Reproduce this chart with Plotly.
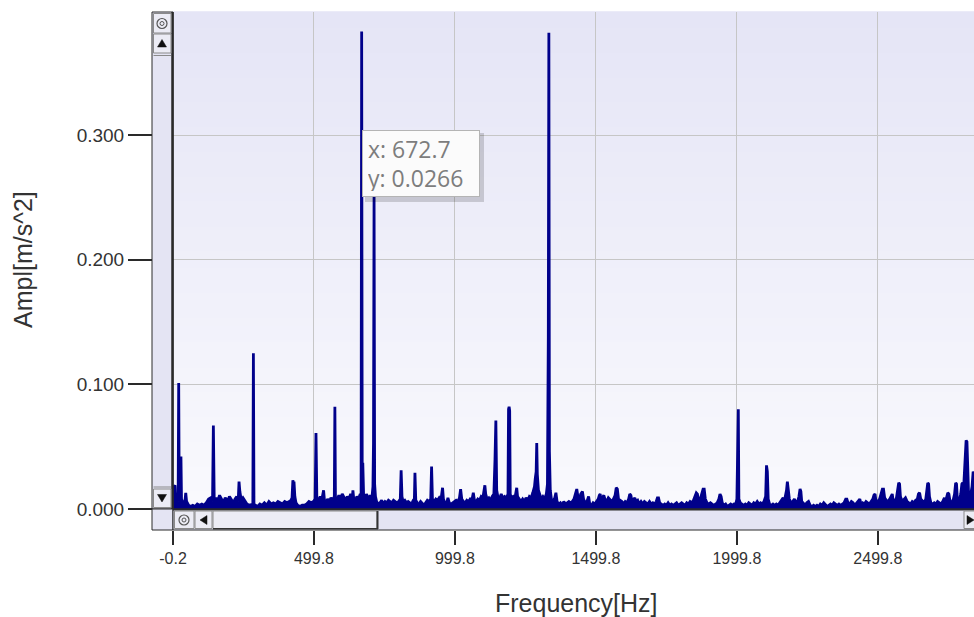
import plotly.graph_objects as go

# ---------------- data ----------------
spectrum_0_500 = [
    (0, 0.012), (3, 0.018), (7, 0.019), (9, 0.008), (12, 0.010), (18, 0.006), (20, 0.101),
    (22, 0.006), (26, 0.010), (28, 0.042), (30, 0.008), (35, 0.005), (42, 0.006), (45, 0.013),
    (48, 0.006), (55, 0.003), (62, 0.002), (70, 0.003), (78, 0.002), (86, 0.004), (94, 0.003),
    (102, 0.004), (110, 0.003), (118, 0.005), (126, 0.008), (134, 0.009), (140, 0.006),
    (143, 0.067), (146, 0.007), (152, 0.009), (158, 0.006), (165, 0.011), (172, 0.008),
    (178, 0.005), (185, 0.009), (192, 0.006), (200, 0.010), (207, 0.007), (214, 0.005),
    (220, 0.008), (226, 0.010), (231, 0.006), (234, 0.022), (237, 0.014), (242, 0.007),
    (248, 0.009), (255, 0.006), (262, 0.004), (270, 0.003), (278, 0.004), (283, 0.004),
    (285, 0.125), (287, 0.004), (292, 0.003), (300, 0.002), (308, 0.004), (316, 0.003),
    (324, 0.005), (332, 0.003), (340, 0.006), (348, 0.004), (356, 0.005), (364, 0.004),
    (372, 0.006), (380, 0.005), (388, 0.004), (396, 0.006), (404, 0.005), (412, 0.006),
    (418, 0.007), (422, 0.009), (425, 0.023), (427, 0.020), (429, 0.022), (432, 0.010),
    (436, 0.005), (442, 0.003), (450, 0.002), (458, 0.003), (466, 0.003), (474, 0.004),
    (482, 0.006), (490, 0.005), (498, 0.006), (504, 0.008),
]
spectrum_500_1000 = [
    (507, 0.061), (510, 0.009), (516, 0.007), (522, 0.010), (528, 0.008), (534, 0.015),
    (537, 0.007), (542, 0.005), (548, 0.008), (554, 0.006), (560, 0.009), (566, 0.007),
    (572, 0.010), (574, 0.082), (576, 0.009), (582, 0.007), (588, 0.011), (594, 0.008),
    (600, 0.012), (606, 0.009), (612, 0.007), (618, 0.010), (624, 0.008), (630, 0.012),
    (636, 0.009), (638, 0.015), (641, 0.008), (646, 0.006), (652, 0.010), (658, 0.008),
    (664, 0.012), (667, 0.010), (669, 0.383), (671, 0.012), (673, 0.037), (676, 0.010),
    (681, 0.008), (686, 0.012), (690, 0.010), (695, 0.008), (700, 0.011), (705, 0.008),
    (709, 0.018), (711, 0.053), (713, 0.252), (715, 0.020), (718, 0.010), (722, 0.006),
    (728, 0.004), (734, 0.005), (740, 0.007), (746, 0.004), (752, 0.006), (758, 0.005),
    (764, 0.007), (770, 0.006), (776, 0.005), (782, 0.007), (788, 0.006), (794, 0.005),
    (800, 0.006), (806, 0.008), (809, 0.031), (812, 0.010), (816, 0.006), (822, 0.007),
    (828, 0.005), (834, 0.006), (840, 0.005), (846, 0.004), (852, 0.007), (856, 0.008),
    (858, 0.029), (861, 0.007), (866, 0.005), (872, 0.004), (878, 0.006), (884, 0.004),
    (890, 0.003), (896, 0.005), (902, 0.007), (908, 0.006), (914, 0.008), (917, 0.034),
    (920, 0.008), (926, 0.006), (932, 0.008), (938, 0.007), (944, 0.009), (950, 0.007),
    (956, 0.017), (959, 0.008), (964, 0.005), (970, 0.004), (975, 0.009), (980, 0.005),
    (986, 0.004), (992, 0.005), (998, 0.006),
]
spectrum_1000_1500 = [
    (1004, 0.007), (1010, 0.006), (1016, 0.009), (1020, 0.016), (1024, 0.008), (1030, 0.006),
    (1036, 0.005), (1042, 0.007), (1048, 0.006), (1054, 0.008), (1060, 0.007), (1065, 0.013),
    (1069, 0.007), (1075, 0.006), (1081, 0.008), (1087, 0.007), (1093, 0.010), (1099, 0.009),
    (1103, 0.017), (1106, 0.019), (1109, 0.012), (1114, 0.008), (1120, 0.009), (1126, 0.007),
    (1132, 0.010), (1138, 0.012), (1142, 0.040), (1145, 0.071), (1148, 0.015), (1152, 0.010),
    (1158, 0.008), (1164, 0.012), (1170, 0.009), (1176, 0.010), (1182, 0.008), (1188, 0.012),
    (1190, 0.080), (1192, 0.082), (1194, 0.079), (1196, 0.012), (1200, 0.009), (1206, 0.010),
    (1212, 0.008), (1216, 0.014), (1219, 0.017), (1222, 0.010), (1228, 0.008), (1234, 0.006),
    (1240, 0.008), (1246, 0.006), (1252, 0.009), (1258, 0.007), (1264, 0.010), (1270, 0.009),
    (1276, 0.013), (1282, 0.018), (1285, 0.025), (1288, 0.030), (1290, 0.053), (1292, 0.028),
    (1296, 0.015), (1300, 0.012), (1306, 0.008), (1312, 0.010), (1318, 0.008), (1324, 0.012),
    (1328, 0.020), (1331, 0.138), (1333, 0.382), (1335, 0.046), (1338, 0.015), (1342, 0.008),
    (1348, 0.006), (1354, 0.009), (1358, 0.013), (1362, 0.006), (1368, 0.004), (1374, 0.005),
    (1380, 0.003), (1386, 0.006), (1392, 0.004), (1398, 0.005), (1404, 0.006), (1410, 0.005),
    (1416, 0.006), (1422, 0.008), (1428, 0.014), (1432, 0.016), (1436, 0.010), (1440, 0.006),
    (1446, 0.012), (1452, 0.014), (1456, 0.008), (1462, 0.005), (1468, 0.006), (1474, 0.010),
    (1478, 0.004), (1484, 0.003), (1490, 0.005), (1496, 0.004),
]
spectrum_1500_2000 = [
    (1502, 0.006), (1508, 0.008), (1512, 0.011), (1515, 0.012), (1518, 0.007), (1524, 0.009),
    (1528, 0.011), (1532, 0.008), (1538, 0.006), (1544, 0.009), (1550, 0.007), (1556, 0.006),
    (1562, 0.008), (1568, 0.011), (1572, 0.017), (1576, 0.016), (1580, 0.008), (1586, 0.007),
    (1592, 0.006), (1598, 0.004), (1604, 0.006), (1610, 0.005), (1616, 0.008), (1620, 0.012),
    (1624, 0.011), (1628, 0.006), (1634, 0.008), (1638, 0.009), (1642, 0.006), (1648, 0.007),
    (1654, 0.004), (1660, 0.006), (1666, 0.004), (1672, 0.006), (1678, 0.005), (1684, 0.004),
    (1690, 0.006), (1696, 0.004), (1702, 0.005), (1708, 0.004), (1714, 0.006), (1718, 0.009),
    (1722, 0.009), (1726, 0.005), (1732, 0.004), (1738, 0.003), (1744, 0.004), (1750, 0.003),
    (1756, 0.005), (1762, 0.003), (1768, 0.004), (1774, 0.003), (1780, 0.004), (1786, 0.005),
    (1792, 0.003), (1798, 0.004), (1804, 0.005), (1810, 0.004), (1816, 0.003), (1822, 0.005),
    (1828, 0.004), (1834, 0.006), (1840, 0.005), (1846, 0.007), (1852, 0.010), (1856, 0.013),
    (1860, 0.012), (1864, 0.006), (1870, 0.008), (1876, 0.012), (1880, 0.016), (1884, 0.016),
    (1888, 0.008), (1894, 0.005), (1900, 0.004), (1906, 0.005), (1912, 0.004), (1918, 0.003),
    (1924, 0.004), (1930, 0.005), (1936, 0.008), (1940, 0.012), (1944, 0.010), (1948, 0.005),
    (1954, 0.003), (1960, 0.004), (1966, 0.002), (1972, 0.003), (1978, 0.004), (1984, 0.003),
    (1990, 0.004), (1996, 0.004),
]
spectrum_2000_2850 = [
    (2000, 0.008), (2003, 0.050), (2005, 0.080), (2007, 0.008), (2012, 0.005), (2018, 0.004),
    (2024, 0.003), (2030, 0.004), (2036, 0.003), (2042, 0.005), (2048, 0.004), (2054, 0.003),
    (2060, 0.005), (2066, 0.004), (2072, 0.006), (2078, 0.004), (2084, 0.005), (2090, 0.004),
    (2096, 0.006), (2102, 0.010), (2105, 0.035), (2108, 0.030), (2111, 0.008), (2116, 0.004),
    (2122, 0.003), (2128, 0.004), (2134, 0.003), (2140, 0.004), (2146, 0.003), (2152, 0.005),
    (2158, 0.007), (2164, 0.009), (2168, 0.006), (2172, 0.010), (2176, 0.015), (2179, 0.022),
    (2182, 0.014), (2186, 0.008), (2192, 0.005), (2198, 0.006), (2204, 0.008), (2208, 0.006),
    (2214, 0.005), (2220, 0.010), (2224, 0.016), (2227, 0.014), (2230, 0.006), (2236, 0.004),
    (2242, 0.003), (2248, 0.005), (2254, 0.006), (2260, 0.003), (2266, 0.002), (2272, 0.003),
    (2278, 0.002), (2284, 0.003), (2290, 0.002), (2296, 0.004), (2302, 0.003), (2308, 0.005),
    (2314, 0.003), (2320, 0.002), (2326, 0.003), (2332, 0.004), (2338, 0.003), (2344, 0.005),
    (2350, 0.004), (2356, 0.003), (2362, 0.004), (2368, 0.003), (2374, 0.004), (2380, 0.005),
    (2386, 0.008), (2390, 0.008), (2394, 0.005), (2400, 0.004), (2406, 0.006), (2412, 0.005),
    (2418, 0.003), (2424, 0.005), (2430, 0.007), (2436, 0.008), (2440, 0.004), (2446, 0.005),
    (2452, 0.004), (2458, 0.006), (2464, 0.005), (2470, 0.004), (2476, 0.006), (2482, 0.008),
    (2486, 0.011), (2490, 0.012), (2494, 0.005), (2500, 0.006), (2506, 0.008), (2510, 0.012),
    (2516, 0.016), (2520, 0.016), (2524, 0.009), (2530, 0.007), (2536, 0.006), (2542, 0.008),
    (2548, 0.011), (2551, 0.012), (2554, 0.007), (2560, 0.006), (2566, 0.009), (2570, 0.014),
    (2574, 0.021), (2577, 0.020), (2580, 0.010), (2586, 0.006), (2592, 0.008), (2598, 0.009),
    (2604, 0.006), (2610, 0.005), (2616, 0.004), (2622, 0.006), (2628, 0.005), (2634, 0.007),
    (2640, 0.008), (2644, 0.012), (2648, 0.013), (2652, 0.008), (2658, 0.006), (2664, 0.005),
    (2670, 0.008), (2674, 0.014), (2677, 0.021), (2680, 0.020), (2683, 0.010), (2688, 0.005),
    (2694, 0.004), (2700, 0.005), (2706, 0.004), (2712, 0.006), (2718, 0.005), (2724, 0.004),
    (2730, 0.006), (2736, 0.009), (2740, 0.006), (2744, 0.010), (2748, 0.013), (2752, 0.012),
    (2756, 0.006), (2762, 0.005), (2768, 0.008), (2772, 0.012), (2776, 0.021), (2779, 0.020),
    (2782, 0.008), (2788, 0.006), (2794, 0.012), (2798, 0.020), (2801, 0.021), (2804, 0.016),
    (2807, 0.030), (2810, 0.047), (2813, 0.055), (2816, 0.054), (2819, 0.025), (2822, 0.010),
    (2826, 0.007), (2830, 0.012), (2834, 0.018), (2838, 0.030), (2841, 0.028), (2846, 0.010),
]

x_tick_vals = [-0.2, 499.8, 999.8, 1499.8, 1999.8, 2499.8]
x_tick_text = ["-0.2", "499.8", "999.8", "1499.8", "1999.8", "2499.8"]
y_tick_vals = [0.0, 0.1, 0.2, 0.3]
y_tick_text = ["0.000", "0.100", "0.200", "0.300"]
tooltip_text = "x: 672.7<br>y: 0.0266"

spectrum = (spectrum_0_500 + spectrum_500_1000 + spectrum_1000_1500
            + spectrum_1500_2000 + spectrum_2000_2850)
freq_hz = [p[0] for p in spectrum]
ampl = [p[1] for p in spectrum]

# ---------------- geometry helpers (pixel -> paper) ----------------
W, H = 974, 617
ML, MT, MB = 152, 12, 87
PW, PH = W - ML, H - MT - MB          # 822 x 518


def px(x):
    return (x - ML) / PW


def py(y):
    return (MT + PH - y) / PH


NAVY = "#00008b"
LAV = "#e4e4f3"
BTN = "#ececf5"
DARK = "#2a2a2a"

fig = go.Figure()
fig.add_trace(go.Scatter(
    x=freq_hz, y=ampl, mode="lines",
    line=dict(color=NAVY, width=2.8),
    fill="tozeroy", fillcolor=NAVY,
    hoverinfo="x+y", showlegend=False,
))

shapes = []

# plot-area vertical gradient background (lavender at top -> near white at bottom)
n_bands = 60
top_c = (229, 229, 246)
bot_c = (249, 249, 253)
for i in range(n_bands):
    t = i / (n_bands - 1)
    c = tuple(round(top_c[k] + (bot_c[k] - top_c[k]) * t) for k in range(3))
    col = "rgb(%d,%d,%d)" % c
    shapes.append(dict(type="rect", xref="x domain", yref="y domain",
                       x0=0, x1=1, y0=1 - (i + 1) / n_bands, y1=1 - i / n_bands,
                       fillcolor=col, line=dict(color=col, width=1.5), layer="below"))


def rect(x0, y0, x1, y1, fill, lc=DARK, lw=1):
    shapes.append(dict(type="rect", xref="paper", yref="paper",
                       x0=px(x0), x1=px(x1), y0=py(y1), y1=py(y0),
                       fillcolor=fill, line=dict(color=lc, width=lw), layer="above"))


def line(x0, y0, x1, y1, lc=DARK, lw=1):
    shapes.append(dict(type="line", xref="paper", yref="paper",
                       x0=px(x0), x1=px(x1), y0=py(y0), y1=py(y1),
                       line=dict(color=lc, width=lw), layer="above"))


def tri(pts, fill="#111"):
    d = "M " + " L ".join("%f %f" % (px(a), py(b)) for a, b in pts) + " Z"
    shapes.append(dict(type="path", xref="paper", yref="paper", path=d,
                       fillcolor=fill, line=dict(color=fill, width=0.5), layer="above"))


def circ_btn(cx, cy):
    shapes.append(dict(type="circle", xref="paper", yref="paper",
                       x0=px(cx - 5), x1=px(cx + 5), y0=py(cy + 5), y1=py(cy - 5),
                       line=dict(color="#555", width=1.2), fillcolor="rgba(0,0,0,0)",
                       layer="above"))
    shapes.append(dict(type="circle", xref="paper", yref="paper",
                       x0=px(cx - 2), x1=px(cx + 2), y0=py(cy + 2), y1=py(cy - 2),
                       line=dict(color="#555", width=1), fillcolor="rgba(0,0,0,0)",
                       layer="above"))


# vertical scrollbar (left)
rect(152, 12, 173, 509, LAV, DARK, 1)
line(172.5, 12, 172.5, 509, DARK, 2.5)
rect(153.5, 13.5, 171, 33, BTN, "#8a8a8a", 1)
circ_btn(162, 23.5)
rect(153.5, 34, 171, 53, BTN, "#8a8a8a", 1)
tri([(157.5, 47), (166.5, 47), (162, 39.5)])
line(153.5, 55.5, 171, 55.5, "#8a8a8a", 1)
line(153.5, 487, 171, 487, "#8a8a8a", 1)
rect(153.5, 489, 171, 507.5, BTN, "#8a8a8a", 1)
tri([(157.5, 494.5), (166.5, 494.5), (162, 502)])

# bottom-left corner
rect(152, 509, 173, 530, LAV, DARK, 1)

# horizontal scrollbar (bottom)
rect(173, 509, 980, 530, LAV, DARK, 1)
line(173, 509.5, 980, 509.5, DARK, 2)
rect(174.5, 511, 194, 528.5, BTN, "#8a8a8a", 1)
circ_btn(184, 520)
rect(195, 511, 212, 528.5, BTN, "#8a8a8a", 1)
tri([(207, 515.5), (207, 524.5), (200, 520)])
rect(213, 511, 377, 528.5, BTN, "#8a8a8a", 1)
line(377.5, 511, 377.5, 529, "#333", 2)
line(213, 528.8, 378, 528.8, "#333", 1.5)
rect(964, 511, 980, 528.5, BTN, "#8a8a8a", 1)
tri([(967, 515.5), (967, 524.5), (974, 520)])

# tooltip shadow
shapes.append(dict(type="rect", xref="paper", yref="paper",
                   x0=px(365), x1=px(484), y0=py(202), y1=py(133),
                   fillcolor="rgba(0,0,0,0.16)", line=dict(width=0), layer="above"))

annotations = [
    dict(text="Ampl[m/s^2]", textangle=-90, xref="paper", yref="paper",
         x=px(23), y=py(260), xanchor="center", yanchor="middle", showarrow=False,
         font=dict(family="Liberation Sans, Arial, sans-serif", size=25, color="#333")),
    dict(text="Frequency[Hz]", xref="paper", yref="paper",
         x=px(576), y=py(603), xanchor="center", yanchor="middle", showarrow=False,
         font=dict(family="Liberation Sans, Arial, sans-serif", size=25, color="#333")),
    dict(text=tooltip_text, xref="paper", yref="paper",
         x=px(362), y=py(130), xanchor="left", yanchor="top", showarrow=False,
         align="left", valign="middle", width=106, height=55, borderpad=5,
         bgcolor="#fbfbfb", bordercolor="#b4b4b4", borderwidth=1,
         font=dict(family="Open Sans, Noto Sans, sans-serif", size=23, color="#7d7d7d")),
]

fig.update_layout(
    width=W, height=H,
    margin=dict(l=ML, r=0, t=MT, b=MB, pad=0),
    paper_bgcolor="white",
    plot_bgcolor="rgba(0,0,0,0)",
    showlegend=False,
    shapes=shapes,
    annotations=annotations,
    xaxis=dict(
        domain=[21 / PW, 1], range=[-0.2, 2841.0], anchor="free", position=0,
        tickmode="array", tickvals=x_tick_vals, ticktext=x_tick_text,
        ticks="outside", ticklen=14, tickwidth=1.5, tickcolor=DARK,
        showgrid=True, gridcolor="#c6c6c6", gridwidth=1,
        zeroline=False, showline=False,
        tickfont=dict(family="Liberation Sans, Arial, sans-serif", size=16, color="#333"),
    ),
    yaxis=dict(
        domain=[21 / PH, 1], range=[0, 0.3987], anchor="free", position=0,
        tickmode="array", tickvals=y_tick_vals, ticktext=y_tick_text,
        ticks="outside", ticklen=24, tickwidth=1.5, tickcolor=DARK,
        showgrid=True, gridcolor="#c6c6c6", gridwidth=1,
        zeroline=False, showline=False,
        tickfont=dict(family="Liberation Sans, Arial, sans-serif", size=19, color="#333"),
    ),
)

fig.write_html(
    "out.html",
    config={"displayModeBar": False},
    post_script="document.body.style.margin='0';document.body.style.overflow='hidden';",
)
